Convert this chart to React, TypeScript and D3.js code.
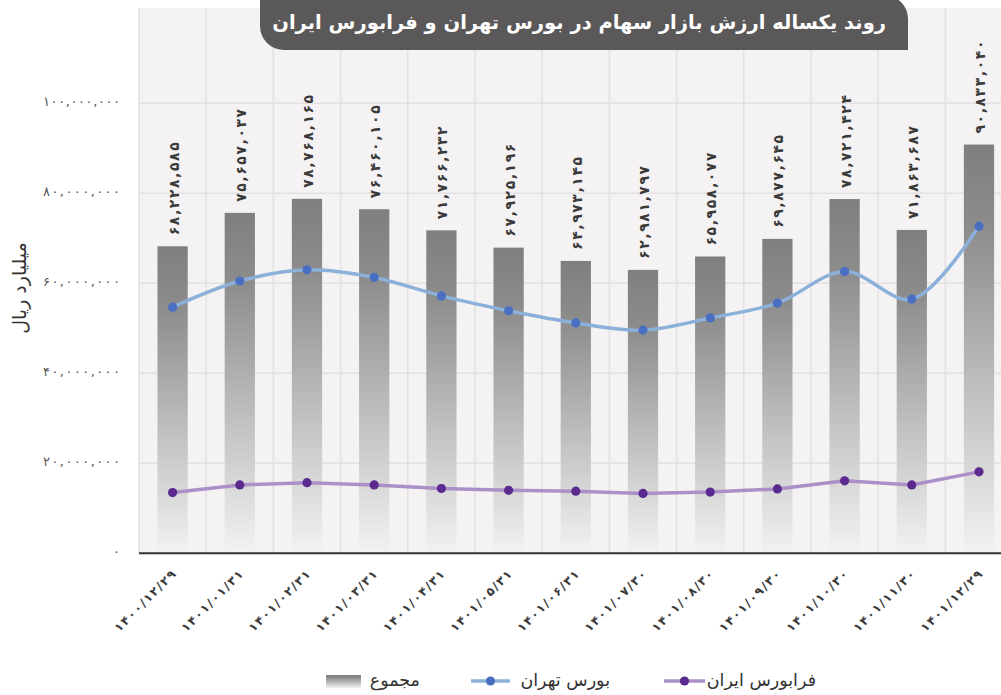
import React, { useEffect, useRef } from 'react'
import * as d3 from 'd3'

const dates = [
  '۱۴۰۰/۱۲/۲۹', '۱۴۰۱/۰۱/۳۱', '۱۴۰۱/۰۲/۳۱', '۱۴۰۱/۰۳/۳۱', '۱۴۰۱/۰۴/۳۱',
  '۱۴۰۱/۰۵/۳۱', '۱۴۰۱/۰۶/۳۱', '۱۴۰۱/۰۷/۳۰', '۱۴۰۱/۰۸/۳۰', '۱۴۰۱/۰۹/۳۰',
  '۱۴۰۱/۱۰/۳۰', '۱۴۰۱/۱۱/۳۰', '۱۴۰۱/۱۲/۲۹',
]

// مجموع
const totals = [
  68228585, 75657037, 78768165, 76460105, 71766232, 67925196, 64973145,
  62981797, 65958077, 69877645, 78721424, 71863687, 90833040,
]

// بورس تهران
const tehran = [
  54.7e6, 60.5e6, 63.0e6, 61.3e6, 57.2e6, 53.9e6, 51.2e6, 49.6e6, 52.3e6,
  55.6e6, 62.6e6, 56.5e6, 72.7e6,
]

// فرابورس ایران
const farabourse = [
  13.5e6, 15.2e6, 15.7e6, 15.2e6, 14.4e6, 14.0e6, 13.8e6, 13.3e6, 13.6e6,
  14.3e6, 16.1e6, 15.2e6, 18.1e6,
]

const yTicks = [0, 20e6, 40e6, 60e6, 80e6, 100e6]

const title = 'روند یکساله ارزش بازار سهام در بورس تهران و فرابورس ایران'
const yTitle = 'میلیارد ریال'
const legendNames = ['مجموع', 'بورس تهران', 'فرابورس ایران']

const faDigits = '۰۱۲۳۴۵۶۷۸۹'
const toFa = (s: string) => s.replace(/\d/g, (d) => faDigits[+d])
const fmt = (v: number) => toFa(d3.format(',')(v))

const W = 1001
const H = 695
const FONT = "'DejaVu Sans', sans-serif"

export default function App() {
  const ref = useRef<SVGSVGElement>(null)

  useEffect(() => {
    const svg = d3.select(ref.current)
    svg.selectAll('*').remove()

    const left = 139
    const step = 67.2
    const plotTop = 8
    const x = d3
      .scaleBand()
      .domain(dates)
      .range([left, left + step * dates.length])
      .paddingInner(0.55)
      .paddingOuter(0.275)
    const y = d3.scaleLinear().domain([0, 100e6]).range([553.3, 103.3])
    const cx = (i: number) => (x(dates[i]) as number) + x.bandwidth() / 2

    const defs = svg.append('defs')
    const grad = defs
      .append('linearGradient')
      .attr('id', 'barGrad')
      .attr('x1', 0).attr('y1', 0).attr('x2', 0).attr('y2', 1)
    grad.append('stop').attr('offset', 0).attr('stop-color', '#7f7f7f')
    grad.append('stop').attr('offset', 0.2).attr('stop-color', '#8c8c8c')
    grad.append('stop').attr('offset', 1).attr('stop-color', '#f1f2f1')

    // plot background
    svg
      .append('rect')
      .attr('x', left)
      .attr('y', plotTop)
      .attr('width', W - left)
      .attr('height', y(0) - plotTop)
      .attr('fill', '#f4f2f3')

    // grid
    svg
      .append('g')
      .selectAll('line')
      .data(yTicks.slice(1))
      .enter()
      .append('line')
      .attr('x1', left)
      .attr('x2', W)
      .attr('y1', (d) => y(d))
      .attr('y2', (d) => y(d))
      .attr('stroke', '#e2e0e1')
      .attr('stroke-width', 1.5)

    svg
      .append('g')
      .selectAll('line')
      .data(d3.range(dates.length + 1))
      .enter()
      .append('line')
      .attr('x1', (i) => left + i * x.step())
      .attr('x2', (i) => left + i * x.step())
      .attr('y1', plotTop)
      .attr('y2', y(0))
      .attr('stroke', '#e2e0e1')
      .attr('stroke-width', 1.5)

    // bars
    svg
      .append('g')
      .selectAll('rect')
      .data(totals)
      .enter()
      .append('rect')
      .attr('x', (d, i) => x(dates[i]) as number)
      .attr('y', (d) => y(d))
      .attr('width', x.bandwidth())
      .attr('height', (d) => y(0) - y(d))
      .attr('fill', 'url(#barGrad)')

    // bar labels
    svg
      .append('g')
      .selectAll('text')
      .data(totals)
      .enter()
      .append('text')
      .attr('transform', (d, i) => `translate(${cx(i) + 1},${y(d) - 11}) rotate(-90)`)
      .attr('dominant-baseline', 'central')
      .attr('font-family', FONT)
      .attr('font-weight', 'bold')
      .attr('font-size', 14)
      .attr('fill', '#3a3a3a')
      .attr('textLength', 93)
      .attr('lengthAdjust', 'spacing')
      .text((d) => fmt(d))

    // axis line
    svg
      .append('line')
      .attr('x1', left)
      .attr('x2', W)
      .attr('y1', y(0))
      .attr('y2', y(0))
      .attr('stroke', '#333')
      .attr('stroke-width', 2)

    // lines
    const drawSeries = (vals: number[], lineColor: string, dotColor: string, curve: d3.CurveFactory) => {
      const line = d3
        .line<number>()
        .x((d, i) => cx(i))
        .y((d) => y(d))
        .curve(curve)
      svg
        .append('path')
        .datum(vals)
        .attr('d', line)
        .attr('fill', 'none')
        .attr('stroke', lineColor)
        .attr('stroke-width', 3.5)
        .attr('stroke-linecap', 'round')
      svg
        .append('g')
        .selectAll('circle')
        .data(vals)
        .enter()
        .append('circle')
        .attr('cx', (d, i) => cx(i))
        .attr('cy', (d) => y(d))
        .attr('r', 4.6)
        .attr('fill', dotColor)
    }
    drawSeries(tehran, '#8bb0da', '#4a6fc2', d3.curveCatmullRom.alpha(0.5))
    drawSeries(farabourse, '#ab8fc8', '#5b2a8e', d3.curveLinear)

    // y tick labels
    svg
      .append('g')
      .selectAll('text')
      .data(yTicks)
      .enter()
      .append('text')
      .attr('x', 120)
      .attr('y', (d) => y(d) - 2)
      .attr('text-anchor', 'end')
      .attr('dominant-baseline', 'central')
      .attr('font-family', FONT)
      .attr('font-size', 13)
      .attr('fill', '#555')
      .each(function (d) {
        if (d > 0) d3.select(this).attr('textLength', 77).attr('lengthAdjust', 'spacing')
      })
      .text((d) => fmt(d))

    // y title
    svg
      .append('text')
      .attr('transform', `translate(19,288) rotate(-90)`)
      .attr('text-anchor', 'middle')
      .attr('dominant-baseline', 'central')
      .attr('font-family', FONT)
      .attr('font-size', 19)
      .attr('fill', '#333')
      .attr('direction', 'rtl')
      .text(yTitle)

    // x labels
    svg
      .append('g')
      .selectAll('text')
      .data(dates)
      .enter()
      .append('text')
      .attr('transform', (d, i) => `translate(${cx(i) + 1},${y(0) + 19}) rotate(-45)`)
      .attr('text-anchor', 'end')
      .attr('dominant-baseline', 'central')
      .attr('font-family', FONT)
      .attr('font-weight', 'bold')
      .attr('font-size', 12)
      .attr('fill', '#3a3a3a')
      .attr('textLength', 81)
      .attr('lengthAdjust', 'spacing')
      .text((d) => d)

    // title box
    const bx0 = 260, bx1 = 908, by1 = 50, r = 24
    const box = d3.path()
    box.moveTo(bx0, -5)
    box.lineTo(bx1 - r, -5)
    box.arcTo(bx1, -5, bx1, -5 + r, r)
    box.lineTo(bx1, by1)
    box.lineTo(bx0 + r, by1)
    box.arcTo(bx0, by1, bx0, by1 - r, r)
    box.closePath()
    svg.append('path').attr('d', box.toString()).attr('fill', '#5a5858')
    svg
      .append('text')
      .attr('x', 886)
      .attr('y', 22)
      .attr('text-anchor', 'start')
      .attr('dominant-baseline', 'central')
      .attr('direction', 'rtl')
      .attr('font-family', FONT)
      .attr('font-weight', 'bold')
      .attr('font-size', 19.5)
      .attr('fill', '#fff')
      .text(title)

    // legend
    const ly = 681
    const lg = svg.append('g')
    lg.append('rect')
      .attr('x', 326).attr('y', ly - 6).attr('width', 35).attr('height', 13)
      .attr('fill', 'url(#barGrad)')
    const legendLines = [
      { x0: 471, x1: 510, line: '#8bb0da', dot: '#4a6fc2' },
      { x0: 664, x1: 705, line: '#ab8fc8', dot: '#5b2a8e' },
    ]
    legendLines.forEach((l) => {
      lg.append('line')
        .attr('x1', l.x0).attr('x2', l.x1).attr('y1', ly).attr('y2', ly)
        .attr('stroke', l.line).attr('stroke-width', 3.5)
      lg.append('circle')
        .attr('cx', (l.x0 + l.x1) / 2).attr('cy', ly).attr('r', 4.6)
        .attr('fill', l.dot)
    })
    const legendTextRight = [420, 610, 816]
    legendNames.forEach((n, i) => {
      lg.append('text')
        .attr('x', legendTextRight[i])
        .attr('y', ly - 1)
        .attr('text-anchor', 'start')
        .attr('direction', 'rtl')
        .attr('dominant-baseline', 'central')
        .attr('font-family', FONT)
        .attr('font-size', 17.5)
        .attr('fill', '#333')
        .text(n)
    })
  }, [])

  return (
    <svg
      ref={ref}
      width={W}
      height={H}
      style={{ position: 'absolute', left: 0, top: 0, background: '#fff' }}
    />
  )
}
